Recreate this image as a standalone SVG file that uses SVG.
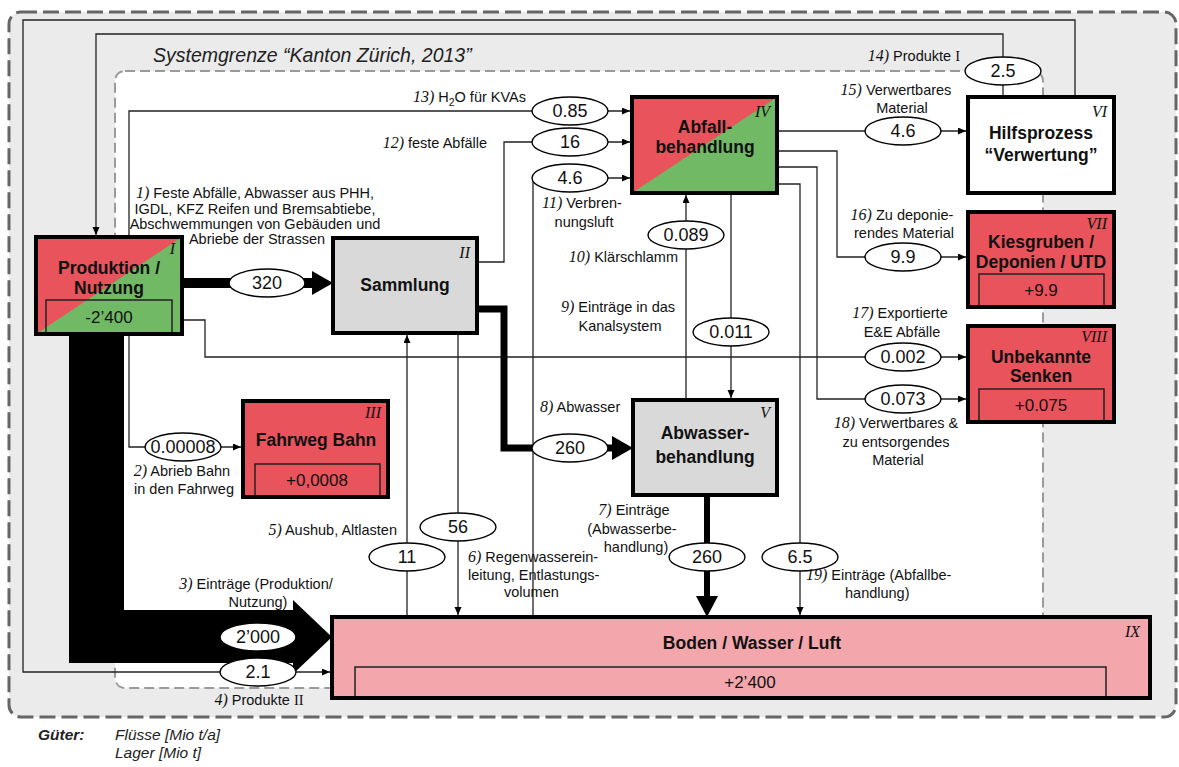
<svg xmlns="http://www.w3.org/2000/svg" width="1179" height="767" viewBox="0 0 1179 767">
  <defs>
    <style>
      .bg { fill: #ebebeb; stroke: #666; stroke-width: 3; stroke-dasharray: 16 6; }
      .sys { fill: #ffffff; stroke: #9a9a9a; stroke-width: 2; stroke-dasharray: 10 5; }
      .box { fill: none; stroke: #000; stroke-width: 4; }
      .red { fill: #e8535c; }
      .grn { fill: #72b966; }
      .gry { fill: #d9d9d9; }
      .wht { fill: #ffffff; }
      .pnk { fill: #f3a6ac; }
      .inner { fill: none; stroke: #222; stroke-width: 1.5; }
      .t { font-family: "Liberation Sans", Arial, sans-serif; font-weight: bold; font-size: 17.5px; text-anchor: middle; fill: #111; }
      .v { font-family: "Liberation Sans", Arial, sans-serif; font-size: 17px; text-anchor: middle; fill: #111; }
      .rn { font-family: "Liberation Serif", "Times New Roman", serif; font-style: italic; font-size: 16px; text-anchor: end; fill: #111; }
      .lbl { font-family: "Liberation Sans", Arial, sans-serif; font-size: 14.5px; fill: #111; }
      .n { font-family: "Liberation Serif", "Times New Roman", serif; font-style: italic; font-size: 16px; }
      .s { font-family: "Liberation Serif", "Times New Roman", serif; }
      .num { font-family: "Liberation Sans", Arial, sans-serif; font-size: 18px; text-anchor: middle; fill: #111; }
      .ell { fill: #ffffff; stroke: #000; stroke-width: 1.4; }
      .ln { fill: none; stroke: #222; stroke-width: 1.3; }
      .arr { marker-end: url(#ah); }
      .thick { fill: none; stroke: #000; }
      .title { font-family: "Liberation Sans", Arial, sans-serif; font-style: italic; font-size: 19.5px; fill: #222; }
      .leg { font-family: "Liberation Sans", Arial, sans-serif; font-style: italic; font-size: 15.5px; fill: #222; }
    </style>
    <marker id="ah" markerWidth="9" markerHeight="8" refX="8" refY="3.5" orient="auto" markerUnits="userSpaceOnUse">
      <path d="M0,0 L8,3.5 L0,7 z" fill="#000"/>
    </marker>
  </defs>

  <!-- outer frame and system boundary -->
  <rect class="bg" x="9" y="12" width="1167" height="705" rx="12"/>
  <rect class="sys" x="115" y="71" width="928" height="617" rx="10"/>
  <text class="title" x="153" y="62">Systemgrenze “Kanton Zürich, 2013”</text>

  <!-- flows -->
  <g id="connectors">
    <!-- 3) Einträge Produktion/Nutzung (large flow) -->
    <polygon points="69,334 124,334 124,610 293,610 293,600 332,637 293,674 293,663 69,663" fill="#000"/>
    <!-- 4) Produkte II -->
    <path class="ln arr" d="M1075,97 V20 H23 V672 H330"/>
    <!-- 14) Produkte I -->
    <path class="ln arr" d="M1003,97 V34 H96 V235"/>
    <!-- 13) H2O für KVAs -->
    <path class="ln arr" d="M129,237 V111 H630"/>
    <!-- 1) Produktion -> Sammlung -->
    <path class="thick" stroke-width="10" d="M182,283 H314"/>
    <polygon points="312,271 333,283 312,295" fill="#000"/>
    <!-- 2) Abrieb Bahn -->
    <path class="ln arr" d="M129,334 V447 H241"/>
    <!-- 17) Exportierte E&E Abfälle -->
    <path class="ln arr" d="M182,320 H205 V357 H966"/>
    <!-- 12) feste Abfälle -->
    <path class="ln arr" d="M477,262 H504 V142 H630"/>
    <!-- 8) Abwasser -->
    <path class="thick" stroke-width="7" d="M477,309 H504 V448 H614"/>
    <polygon points="612,436 633,448 612,460" fill="#000"/>
    <!-- 5) Aushub, Altlasten -->
    <path class="ln arr" d="M407,617 V335"/>
    <!-- 6) Regenwassereinleitung -->
    <path class="ln arr" d="M458,333 V615"/>
    <!-- 11) Verbrennungsluft -->
    <path class="ln arr" d="M533,617 V178 H630"/>
    <!-- 10) Klärschlamm -->
    <path class="ln arr" d="M686,400 V195"/>
    <!-- 9) Einträge in das Kanalsystem -->
    <path class="ln arr" d="M731,193 V398"/>
    <!-- 15) Verwertbares Material -->
    <path class="ln arr" d="M777,131 H966"/>
    <!-- 16) Zu deponierendes Material -->
    <path class="ln arr" d="M777,151 H837 V257 H966"/>
    <!-- 18) Verwertbares & zu entsorgendes Material -->
    <path class="ln arr" d="M777,167 H817 V399 H966"/>
    <!-- 19) Einträge Abfallbehandlung -->
    <path class="ln arr" d="M777,184 H800 V615"/>
    <!-- 7) Einträge Abwasserbehandlung -->
    <path class="thick" stroke-width="6" d="M707,495 V599"/>
    <polygon points="696,596 707,617 718,596" fill="#000"/>

    <!-- flow values -->
    <ellipse class="ell" cx="1003" cy="71" rx="38" ry="14"/><text class="num" x="1003" y="77">2.5</text>
    <ellipse class="ell" cx="570" cy="111" rx="38" ry="14"/><text class="num" x="570" y="117">0.85</text>
    <ellipse class="ell" cx="570" cy="142" rx="38" ry="14"/><text class="num" x="570" y="148">16</text>
    <ellipse class="ell" cx="570" cy="178" rx="38" ry="14"/><text class="num" x="570" y="184">4.6</text>
    <ellipse class="ell" cx="267" cy="283" rx="38" ry="14"/><text class="num" x="267" y="289">320</text>
    <ellipse class="ell" cx="183" cy="447" rx="38" ry="14"/><text class="num" x="183" y="453">0.00008</text>
    <ellipse class="ell" cx="686" cy="235" rx="38" ry="14"/><text class="num" x="686" y="241">0.089</text>
    <ellipse class="ell" cx="731" cy="332" rx="38" ry="14"/><text class="num" x="731" y="338">0.011</text>
    <ellipse class="ell" cx="570" cy="448" rx="38" ry="14"/><text class="num" x="570" y="454">260</text>
    <ellipse class="ell" cx="903" cy="131" rx="38" ry="14"/><text class="num" x="903" y="137">4.6</text>
    <ellipse class="ell" cx="903" cy="257" rx="38" ry="14"/><text class="num" x="903" y="263">9.9</text>
    <ellipse class="ell" cx="903" cy="357" rx="38" ry="14"/><text class="num" x="903" y="363">0.002</text>
    <ellipse class="ell" cx="903" cy="399" rx="38" ry="14"/><text class="num" x="903" y="405">0.073</text>
    <ellipse class="ell" cx="458" cy="527" rx="38" ry="14"/><text class="num" x="458" y="533">56</text>
    <ellipse class="ell" cx="407" cy="557" rx="38" ry="14"/><text class="num" x="407" y="563">11</text>
    <ellipse class="ell" cx="707" cy="557" rx="38" ry="14"/><text class="num" x="707" y="563">260</text>
    <ellipse class="ell" cx="800" cy="557" rx="38" ry="14"/><text class="num" x="800" y="563">6.5</text>
    <ellipse class="ell" cx="258" cy="637" rx="38" ry="14"/><text class="num" x="258" y="643">2’000</text>
    <ellipse class="ell" cx="258" cy="672" rx="38" ry="14"/><text class="num" x="258" y="678">2.1</text>

    <!-- flow labels -->
    <text class="lbl" text-anchor="middle">
      <tspan x="257" y="198"><tspan class="n">1)</tspan> Feste Abfälle, Abwasser aus PHH,</tspan>
      <tspan x="257" y="214">IGDL, KFZ Reifen und Bremsabtiebe,</tspan>
      <tspan x="257" y="229">Abschwemmungen von Gebäuden und</tspan>
      <tspan x="257" y="244">Abriebe der Strassen</tspan>
    </text>
    <text class="lbl" text-anchor="middle">
      <tspan x="184" y="476"><tspan class="n">2)</tspan> Abrieb Bahn</tspan>
      <tspan x="184" y="494">in den Fahrweg</tspan>
    </text>
    <text class="lbl" text-anchor="middle">
      <tspan x="258" y="589"><tspan class="n">3)</tspan> Einträge (Produktion/</tspan>
      <tspan x="258" y="607">Nutzung)</tspan>
    </text>
    <text class="lbl" x="259" y="705" text-anchor="middle"><tspan class="n">4)</tspan> Produkte <tspan class="s">II</tspan></text>
    <text class="lbl" x="397" y="535" text-anchor="end"><tspan class="n">5)</tspan> Aushub, Altlasten</text>
    <text class="lbl">
      <tspan x="468" y="562"><tspan class="n">6)</tspan> Regenwasserein-</tspan>
      <tspan x="468" y="580">leitung, Entlastungs-</tspan>
      <tspan x="504" y="597">volumen</tspan>
    </text>
    <text class="lbl" text-anchor="middle">
      <tspan x="636" y="515"><tspan class="n">7)</tspan> Einträge</tspan>
      <tspan x="634" y="534">(Abwasserbe-</tspan>
      <tspan x="636" y="552">handlung)</tspan>
    </text>
    <text class="lbl" x="540" y="412"><tspan class="n">8)</tspan> Abwasser</text>
    <text class="lbl" text-anchor="middle">
      <tspan x="620" y="312"><tspan class="n">9)</tspan> Einträge in das</tspan>
      <tspan x="620" y="331">Kanalsystem</tspan>
    </text>
    <text class="lbl" x="678" y="262" text-anchor="end"><tspan class="n">10)</tspan> Klärschlamm</text>
    <text class="lbl" text-anchor="middle">
      <tspan x="584" y="208"><tspan class="n">11)</tspan> Verbren-</tspan>
      <tspan x="584" y="227">nungsluft</tspan>
    </text>
    <text class="lbl" x="487" y="148" text-anchor="end"><tspan class="n">12)</tspan> feste Abfälle</text>
    <text class="lbl" x="526" y="102" text-anchor="end"><tspan class="n">13)</tspan> H<tspan dy="4" font-size="10.5">2</tspan><tspan dy="-4">O für KVAs</tspan></text>
    <text class="lbl" x="960" y="61" text-anchor="end"><tspan class="n">14)</tspan> Produkte <tspan class="s">I</tspan></text>
    <text class="lbl" text-anchor="middle">
      <tspan x="898" y="95"><tspan class="n">15)</tspan> Verwertbares</tspan>
      <tspan x="902" y="113">Material</tspan>
    </text>
    <text class="lbl" text-anchor="middle">
      <tspan x="904" y="220"><tspan class="n">16)</tspan> Zu deponie-</tspan>
      <tspan x="904" y="238">rendes Material</tspan>
    </text>
    <text class="lbl" text-anchor="middle">
      <tspan x="902" y="318"><tspan class="n">17)</tspan> Exportierte</tspan>
      <tspan x="902" y="337">E&amp;E Abfälle</tspan>
    </text>
    <text class="lbl" text-anchor="middle">
      <tspan x="898" y="428"><tspan class="n">18)</tspan> Verwertbares &amp;</tspan>
      <tspan x="898" y="447">zu entsorgendes</tspan>
      <tspan x="898" y="465">Material</tspan>
    </text>
    <text class="lbl">
      <tspan x="806" y="580"><tspan class="n">19)</tspan> Einträge (Abfallbe-</tspan>
      <tspan x="845" y="598">handlung)</tspan>
    </text>
  </g>

  <!-- processes -->
  <g id="produktion">
    <rect class="red" x="36" y="237" width="146" height="97"/>
    <polygon class="grn" points="36,334 182,237 182,334"/>
    <rect class="inner" x="46" y="300" width="126" height="34"/>
    <rect class="box" x="36" y="237" width="146" height="97"/>
    <text class="rn" x="175" y="254">I</text>
    <text class="t" x="109" y="274">Produktion /</text>
    <text class="t" x="109" y="294">Nutzung</text>
    <text class="v" x="109" y="323">-2’400</text>
  </g>

  <g id="sammlung">
    <rect class="gry" x="333" y="238" width="144" height="95"/>
    <rect class="box" x="333" y="238" width="144" height="95"/>
    <text class="rn" x="470" y="258">II</text>
    <text class="t" x="405" y="291">Sammlung</text>
  </g>

  <g id="fahrweg">
    <rect class="red" x="243" y="401" width="145" height="96"/>
    <rect class="inner" x="255" y="464" width="125" height="33"/>
    <rect class="box" x="243" y="401" width="145" height="96"/>
    <text class="rn" x="381" y="418">III</text>
    <text class="t" x="316" y="446">Fahrweg Bahn</text>
    <text class="v" x="317" y="486">+0,0008</text>
  </g>

  <g id="abfallbehandlung">
    <rect class="red" x="632" y="97" width="145" height="96"/>
    <polygon class="grn" points="632,193 777,97 777,193"/>
    <rect class="box" x="632" y="97" width="145" height="96"/>
    <text class="rn" x="770" y="117">IV</text>
    <text class="t" x="705" y="133">Abfall-</text>
    <text class="t" x="705" y="153">behandlung</text>
  </g>

  <g id="abwasserbehandlung">
    <rect class="gry" x="633" y="400" width="144" height="95"/>
    <rect class="box" x="633" y="400" width="144" height="95"/>
    <text class="rn" x="770" y="418">V</text>
    <text class="t" x="705" y="439">Abwasser-</text>
    <text class="t" x="705" y="463">behandlung</text>
  </g>

  <g id="verwertung">
    <rect class="wht" x="968" y="97" width="146" height="96"/>
    <rect class="box" x="968" y="97" width="146" height="96"/>
    <text class="rn" x="1107" y="117">VI</text>
    <text class="t" x="1041" y="139">Hilfsprozess</text>
    <text class="t" x="1041" y="161">“Verwertung”</text>
  </g>

  <g id="deponien">
    <rect class="red" x="968" y="212" width="146" height="95"/>
    <rect class="inner" x="979" y="274" width="125" height="33"/>
    <rect class="box" x="968" y="212" width="146" height="95"/>
    <text class="rn" x="1107" y="229">VII</text>
    <text class="t" x="1041" y="248">Kiesgruben /</text>
    <text class="t" x="1041" y="268">Deponien / UTD</text>
    <text class="v" x="1041" y="296">+9.9</text>
  </g>

  <g id="senken">
    <rect class="red" x="968" y="326" width="146" height="96"/>
    <rect class="inner" x="979" y="389" width="125" height="33"/>
    <rect class="box" x="968" y="326" width="146" height="96"/>
    <text class="rn" x="1107" y="342">VIII</text>
    <text class="t" x="1041" y="363">Unbekannte</text>
    <text class="t" x="1041" y="382">Senken</text>
    <text class="v" x="1041" y="411">+0.075</text>
  </g>

  <g id="umwelt">
    <rect class="pnk" x="332" y="617" width="818" height="81"/>
    <rect class="inner" x="355" y="667" width="751" height="31"/>
    <rect class="box" x="332" y="617" width="818" height="81"/>
    <text class="rn" x="1140" y="637">IX</text>
    <text class="t" x="752" y="649">Boden / Wasser / Luft</text>
    <text class="v" x="750" y="688">+2’400</text>
  </g>

  <!-- legend -->
  <g id="legende">
    <text class="leg" x="38" y="740" font-weight="bold">Güter:</text>
    <text class="leg" x="115" y="740">Flüsse [Mio t/a]</text>
    <text class="leg" x="115" y="758">Lager [Mio t]</text>
  </g>
</svg>
